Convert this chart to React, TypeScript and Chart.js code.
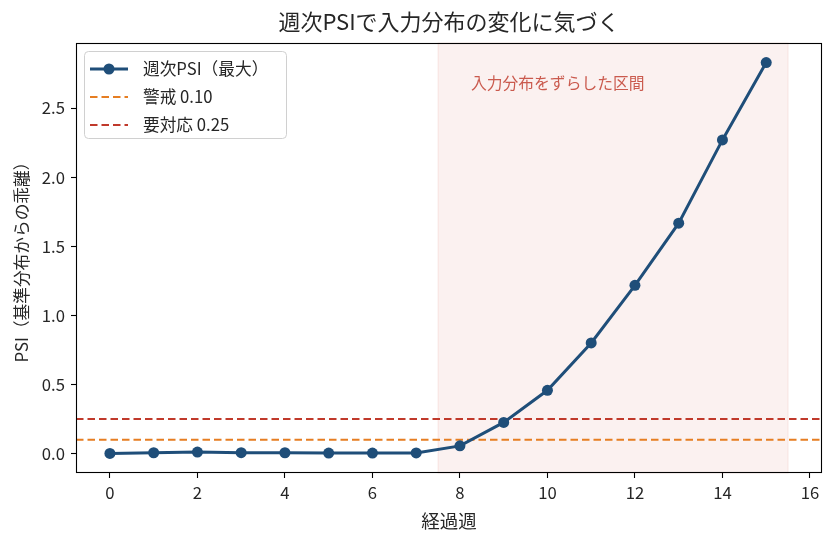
import React, { useEffect, useRef } from "react";
import { Chart, registerables } from "chart.js";

Chart.register(...registerables);

const weeks = [0, 1, 2, 3, 4, 5, 6, 7, 8, 9, 10, 11, 12, 13, 14, 15];
const psiMax = [0.0, 0.005, 0.01, 0.006, 0.005, 0.003, 0.003, 0.004, 0.055, 0.225, 0.457, 0.8, 1.217, 1.667, 2.27, 2.83];
const warnLevel = 0.1;
const actLevel = 0.25;
const shiftSpan = [7.5, 15.5];
const xTicks = [0, 2, 4, 6, 8, 10, 12, 14, 16];
const yTicks = [0, 0.5, 1.0, 1.5, 2.0, 2.5];
const titleText = "週次PSIで入力分布の変化に気づく";
const xLabel = "経過週";
const yLabel = "PSI（基準分布からの乖離）";
const spanLabel = "入力分布をずらした区間";
const legendLabels = ["週次PSI（最大）", "警戒 0.10", "要対応 0.25"];

const FONT = "'Noto Sans CJK JP', 'Noto Sans', sans-serif";
const BLUE = "#1f4e79";
const ORANGE = "#e67e22";
const RED = "#c0392b";
const TXT = "#262626";

const xMin = -0.775;
const xMax = 16.275;
const yMin = -0.1415;
const yMax = 2.9715;

const overlayPlugin = {
  id: "overlay",
  beforeDatasetsDraw(chart: any) {
    const { ctx, chartArea, scales } = chart;
    const x = scales.x;
    const x0 = x.getPixelForValue(shiftSpan[0]);
    const x1 = x.getPixelForValue(shiftSpan[1]);
    ctx.save();
    ctx.fillStyle = "rgba(192,57,43,0.07)";
    ctx.fillRect(x0, chartArea.top, x1 - x0, chartArea.bottom - chartArea.top);
    ctx.strokeStyle = "rgba(192,57,43,0.10)";
    ctx.lineWidth = 1;
    ctx.strokeRect(x0, chartArea.top, x1 - x0, chartArea.bottom - chartArea.top);
    ctx.fillStyle = "rgba(192,57,43,0.82)";
    ctx.font = `15.8px ${FONT}`;
    ctx.textAlign = "left";
    ctx.textBaseline = "middle";
    ctx.fillText(spanLabel, x.getPixelForValue(8.25), scales.y.getPixelForValue(2.68));
    ctx.restore();
  },
  afterDraw(chart: any) {
    const { ctx, chartArea } = chart;
    ctx.save();
    ctx.strokeStyle = "#000";
    ctx.lineWidth = 1.1;
    ctx.strokeRect(chartArea.left + 0.5, chartArea.top + 0.5, chartArea.right - chartArea.left - 1, chartArea.bottom - chartArea.top - 1);
    ctx.fillStyle = TXT;
    ctx.font = `22px ${FONT}`;
    ctx.textAlign = "center";
    ctx.textBaseline = "middle";
    const cx = (chartArea.left + chartArea.right) / 2;
    ctx.fillText(titleText, cx, 22);
    ctx.font = `18.5px ${FONT}`;
    ctx.fillText(xLabel, cx, 521);
    ctx.save();
    ctx.translate(22, (chartArea.top + chartArea.bottom) / 2);
    ctx.rotate(-Math.PI / 2);
    ctx.font = `16.7px ${FONT}`;
    ctx.fillText(yLabel, 0, 0);
    ctx.restore();
    // legend
    const lx = chartArea.left + 8;
    const ly = chartArea.top + 8;
    const lw = 202;
    const lh = 87;
    ctx.fillStyle = "rgba(255,255,255,0.85)";
    ctx.strokeStyle = "#d0d0d0";
    ctx.lineWidth = 1;
    ctx.beginPath();
    (ctx as any).roundRect(lx + 0.5, ly + 0.5, lw, lh, 4);
    ctx.fill();
    ctx.stroke();
    const rows = [ly + 18, ly + 46, ly + 74];
    const sx0 = lx + 6;
    const sx1 = lx + 44;
    ctx.strokeStyle = BLUE;
    ctx.lineWidth = 3;
    ctx.setLineDash([]);
    ctx.beginPath();
    ctx.moveTo(sx0, rows[0]);
    ctx.lineTo(sx1, rows[0]);
    ctx.stroke();
    ctx.fillStyle = BLUE;
    ctx.beginPath();
    ctx.arc((sx0 + sx1) / 2, rows[0], 5.5, 0, Math.PI * 2);
    ctx.fill();
    [ORANGE, RED].forEach((c, i) => {
      ctx.strokeStyle = c;
      ctx.lineWidth = 2;
      ctx.setLineDash([7.5, 4]);
      ctx.beginPath();
      ctx.moveTo(sx0, rows[i + 1]);
      ctx.lineTo(sx1, rows[i + 1]);
      ctx.stroke();
    });
    ctx.setLineDash([]);
    ctx.fillStyle = TXT;
    ctx.font = `16.7px ${FONT}`;
    ctx.textAlign = "left";
    legendLabels.forEach((t, i) => ctx.fillText(t, lx + 59, rows[i]));
    ctx.restore();
  },
};

export default function App() {
  const ref = useRef<HTMLCanvasElement | null>(null);
  useEffect(() => {
    document.body.style.margin = "0";
    if (!ref.current) return;
    const chart = new Chart(ref.current, {
      type: "line",
      data: {
        datasets: [
          {
            label: "warn",
            data: [
              { x: xMin, y: warnLevel },
              { x: xMax, y: warnLevel },
            ],
            borderColor: ORANGE,
            borderWidth: 2,
            borderDash: [7.5, 4],
            pointRadius: 0,
            order: 2,
          },
          {
            label: "act",
            data: [
              { x: xMin, y: actLevel },
              { x: xMax, y: actLevel },
            ],
            borderColor: RED,
            borderWidth: 2,
            borderDash: [7.5, 4],
            pointRadius: 0,
            order: 2,
          },
          {
            label: legendLabels[0],
            data: weeks.map((w, i) => ({ x: w, y: psiMax[i] })),
            borderColor: BLUE,
            backgroundColor: BLUE,
            borderWidth: 3,
            pointRadius: 5.5,
            pointBackgroundColor: BLUE,
            pointBorderWidth: 0,
            order: 1,
          },
        ],
      },
      options: {
        animation: false,
        responsive: false,
        layout: { padding: { top: 43, right: 12, left: 0, bottom: 0 } },
        plugins: {
          legend: { display: false },
          tooltip: { enabled: false },
          title: { display: false },
        },
        scales: {
          x: {
            type: "linear",
            min: xMin,
            max: xMax,
            afterBuildTicks: (s: any) => {
              s.ticks = xTicks.map((v) => ({ value: v }));
            },
            afterFit: (s: any) => {
              s.height = 69;
            },
            grid: { drawOnChartArea: false, drawTicks: true, tickLength: 5, color: "#000", tickWidth: 1.1 },
            border: { display: false },
            ticks: {
              color: TXT,
              font: { family: FONT, size: 16.7 },
              padding: 5,
              maxRotation: 0,
              callback: (v: any) => String(v),
            },
          },
          y: {
            type: "linear",
            min: yMin,
            max: yMax,
            afterBuildTicks: (s: any) => {
              s.ticks = yTicks.map((v) => ({ value: v }));
            },
            afterFit: (s: any) => {
              s.width = 76;
            },
            grid: { drawOnChartArea: false, drawTicks: true, tickLength: 5, color: "#000", tickWidth: 1.1 },
            border: { display: false },
            ticks: {
              color: TXT,
              font: { family: FONT, size: 16.7 },
              padding: 6,
              callback: (v: any) => Number(v).toFixed(1),
            },
          },
        },
      },
      plugins: [overlayPlugin],
    });
    return () => chart.destroy();
  }, []);
  return <canvas ref={ref} width={834} height={542} style={{ display: "block" }} />;
}
